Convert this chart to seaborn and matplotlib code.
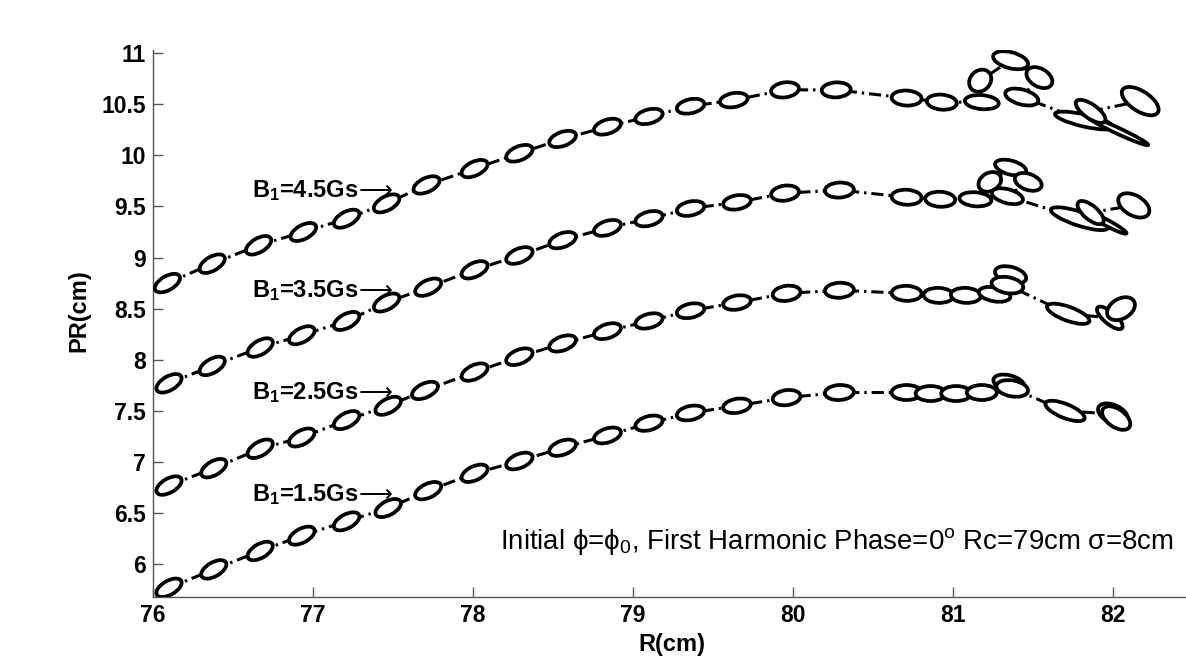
import numpy as np
import pandas as pd
import seaborn as sns
import matplotlib
matplotlib.use("Agg")
import matplotlib.pyplot as plt
from matplotlib.collections import EllipseCollection

# ---------------- data ----------------
# beam centroid trajectory (R, PR) and phase-space ellipse shape per turn
xA = [76.09, 76.37, 76.66, 76.94, 77.21, 77.46, 77.71, 78.01, 78.29, 78.56, 78.84, 79.10, 79.36, 79.63,
      79.95, 80.27, 80.71, 80.93, 81.18, 81.17, 81.36, 81.54, 81.43, 81.82, 82.03, 81.86, 82.17]
yA = [8.75, 8.94, 9.12, 9.25, 9.38, 9.53, 9.71, 9.87, 10.02, 10.16, 10.28, 10.38, 10.48, 10.54,
      10.64, 10.64, 10.56, 10.52, 10.52, 10.73, 10.93, 10.76, 10.57, 10.34, 10.24, 10.43, 10.53]
wA = [28, 28, 28, 28, 28, 28, 28, 28, 28, 28, 28, 28, 28, 28, 28, 29, 30, 30, 34, 24, 36, 28, 34, 60, 67, 35, 42]
hA = [14, 14, 14, 14, 14, 14, 14, 14, 14, 14, 14, 14, 14, 14, 15, 15, 15, 15, 14, 20, 16, 18, 15, 12, 6, 14, 20]
aA = [30, 30, 30, 28, 28, 28, 25, 25, 22, 20, 18, 15, 12, 10, 8, 3, -3, -5, -5, 45, -15, -30, -15, -13, -25, -35, -33]

xB = [76.10, 76.37, 76.67, 76.93, 77.21, 77.46, 77.72, 78.01, 78.29, 78.56, 78.84, 79.10, 79.36, 79.65,
      79.95, 80.29, 80.71, 80.92, 81.14, 81.23, 81.36, 81.47, 81.34, 81.79, 81.96, 81.86, 82.13]
yB = [7.77, 7.94, 8.12, 8.24, 8.38, 8.56, 8.71, 8.88, 9.02, 9.17, 9.29, 9.38, 9.48, 9.54,
      9.63, 9.66, 9.59, 9.57, 9.57, 9.74, 9.88, 9.74, 9.60, 9.38, 9.34, 9.44, 9.51]
wB = [28, 28, 28, 28, 28, 28, 28, 28, 28, 28, 28, 28, 28, 28, 28, 29, 30, 30, 32, 24, 32, 28, 32, 60, 45, 32, 34]
hB = [14, 14, 14, 14, 14, 14, 14, 14, 14, 14, 14, 14, 14, 14, 15, 15, 15, 15, 14, 18, 14, 16, 14, 14, 6, 14, 20]
aB = [30, 30, 30, 28, 28, 28, 25, 25, 22, 20, 18, 15, 12, 10, 8, 3, -3, -3, -5, 30, -15, -20, -15, -18, -28, -40, -30]

xC = [76.10, 76.38, 76.67, 76.93, 77.21, 77.47, 77.70, 78.01, 78.29, 78.56, 78.84, 79.10, 79.36, 79.65,
      79.96, 80.29, 80.71, 80.91, 81.08, 81.26, 81.36, 81.34, 81.72, 81.98, 82.05]
yC = [6.77, 6.94, 7.13, 7.24, 7.41, 7.55, 7.70, 7.88, 8.03, 8.16, 8.28, 8.38, 8.48, 8.56,
      8.65, 8.68, 8.65, 8.63, 8.63, 8.64, 8.83, 8.73, 8.45, 8.41, 8.50]
wC = [28, 28, 28, 28, 28, 28, 28, 28, 28, 28, 28, 28, 28, 28, 28, 29, 30, 30, 30, 32, 32, 32, 45, 32, 30]
hC = [14, 14, 14, 14, 14, 14, 14, 14, 14, 14, 14, 14, 14, 14, 15, 15, 15, 15, 15, 14, 16, 16, 14, 12, 20]
aC = [30, 30, 30, 28, 28, 28, 25, 25, 22, 20, 18, 15, 12, 10, 8, 3, -2, -2, -3, -10, -15, -10, -20, -40, 30]

xD = [76.10, 76.38, 76.67, 76.93, 77.21, 77.47, 77.72, 78.01, 78.29, 78.56, 78.84, 79.10, 79.36, 79.65,
      79.96, 80.29, 80.71, 80.86, 81.02, 81.18, 81.35, 81.37, 81.70, 82.00, 82.02]
yD = [5.77, 5.95, 6.13, 6.28, 6.42, 6.55, 6.72, 6.89, 7.01, 7.14, 7.26, 7.38, 7.48, 7.55,
      7.63, 7.68, 7.68, 7.67, 7.67, 7.68, 7.77, 7.72, 7.50, 7.47, 7.43]
wD = [28, 28, 28, 28, 28, 28, 28, 28, 28, 28, 28, 28, 28, 28, 28, 29, 30, 30, 30, 30, 32, 32, 42, 32, 32]
hD = [14, 14, 14, 14, 14, 14, 14, 14, 14, 14, 14, 14, 14, 14, 15, 15, 15, 15, 15, 15, 16, 16, 14, 18, 18]
aD = [30, 30, 30, 28, 28, 28, 25, 25, 22, 20, 18, 15, 12, 10, 8, 3, 0, 0, 0, 0, -15, -10, -22, -25, -35]

curve_labels = ["B$_1$=4.5Gs", "B$_1$=3.5Gs", "B$_1$=2.5Gs", "B$_1$=1.5Gs"]
label_x = [76.62, 76.62, 76.62, 76.62]
label_y = [9.59, 8.61, 7.62, 6.62]
arrow_char = "\u27f6"

xticks = [76, 77, 78, 79, 80, 81, 82]
xtick_labels = ["76", "77", "78", "79", "80", "81", "82"]
yticks = [6, 6.5, 7, 7.5, 8, 8.5, 9, 9.5, 10, 10.5, 11]
ytick_labels = ["6", "6.5", "7", "7.5", "8", "8.5", "9", "9.5", "10", "10.5", "11"]

note_text = "Initial \u03d5=\u03d5$_0$, First Harmonic Phase=0$^o$ Rc=79cm \u03c3=8cm"

# ---------------- style ----------------
sns.set_style("ticks")
plt.rcParams["font.family"] = ["Liberation Sans", "DejaVu Sans"]
plt.rcParams["text.color"] = "black"
plt.rcParams["axes.labelcolor"] = "black"
plt.rcParams["mathtext.fontset"] = "custom"
plt.rcParams["mathtext.rm"] = "Liberation Sans"
plt.rcParams["mathtext.bf"] = "Liberation Sans:bold"
plt.rcParams["mathtext.it"] = "Liberation Sans:italic"
plt.rcParams["mathtext.default"] = "regular"

W, H = 1186, 663
fig = plt.figure(figsize=(W / 100, H / 100), dpi=100)
ax = fig.add_axes([153 / W, (H - 597) / H, (1193 - 153) / W, (597 - 50) / H])

curves = [(xA, yA, wA, hA, aA), (xB, yB, wB, hB, aB), (xC, yC, wC, hC, aC), (xD, yD, wD, hD, aD)]
for i, (x, y, w, h, a) in enumerate(curves):
    df = pd.DataFrame({"R": x, "PR": y})
    sns.lineplot(data=df, x="R", y="PR", sort=False, estimator=None, color="black",
                 linewidth=2.2, linestyle=(0, (4.0, 1.6, 0.8, 1.6)), ax=ax, zorder=2)
    ec = EllipseCollection(widths=np.array(w) * 0.72, heights=np.array(h) * 0.72, angles=a,
                           units="points", offsets=np.column_stack([x, y]),
                           offset_transform=ax.transData, facecolors="white",
                           edgecolors="black", linewidths=2.7, zorder=3)
    ax.add_collection(ec, autolim=False)

for lx, ly, lab in zip(label_x, label_y, curve_labels):
    t = ax.text(lx, ly, lab, fontsize=17, fontweight="bold", ha="left", va="baseline", zorder=4)
    ax.annotate(arrow_char, xy=(1, 0), xycoords=t, xytext=(0, 0), textcoords="offset points",
                fontsize=17, fontweight="normal", ha="left", va="bottom",
                family=["DejaVu Sans"], zorder=4)

ax.text(78.17, 6.15, note_text, fontsize=19.9, fontweight="normal", ha="left", va="baseline",
        clip_on=False, zorder=4)

ax.set_xlim(76, 82.5)
ax.set_ylim(5.68, 11.03)
ax.set_xticks(xticks)
ax.set_xticklabels(xtick_labels)
ax.set_yticks(yticks)
ax.set_yticklabels(ytick_labels)
for lbl in ax.get_xticklabels() + ax.get_yticklabels():
    lbl.set_fontweight("bold")
ax.tick_params(direction="in", length=7, width=1, color="#555555", labelsize=16.5, pad=5,
               labelcolor="black")
for s in ["top", "right"]:
    ax.spines[s].set_visible(False)
for s in ["left", "bottom"]:
    ax.spines[s].set_color("#555555")
    ax.spines[s].set_linewidth(1)

ax.set_xlabel("R(cm)", fontsize=17, fontweight="bold")
ax.set_ylabel("PR(cm)", fontsize=17, fontweight="bold")
ax.xaxis.set_label_coords(0.499, -0.066)
ax.yaxis.set_label_coords(-0.06, 0.523)

fig.savefig("out.png", dpi=100)
